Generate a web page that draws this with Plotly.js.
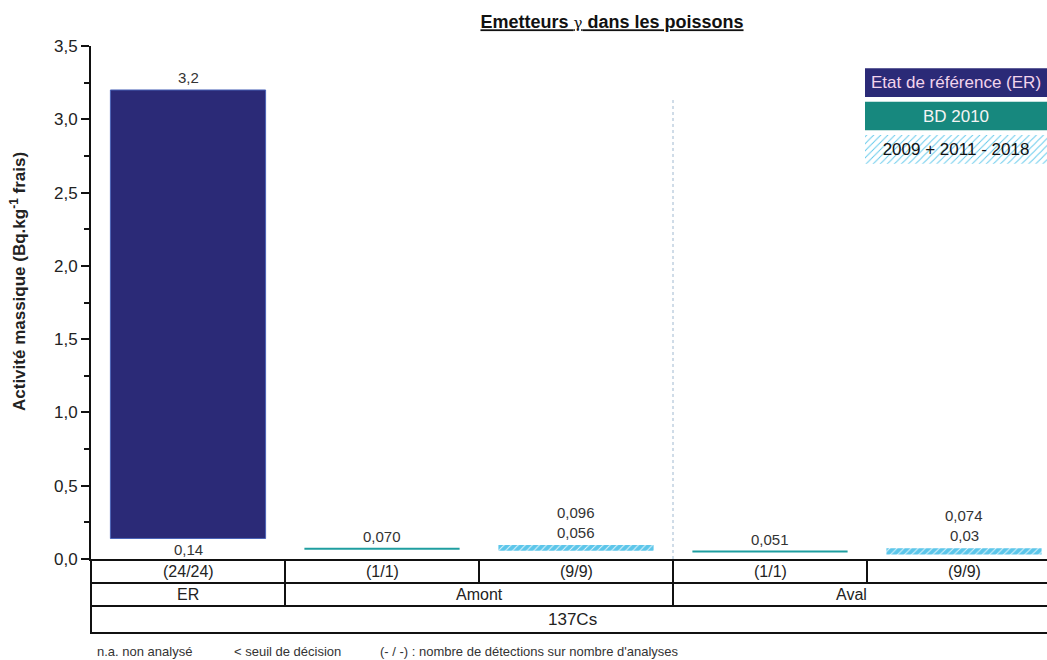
<!DOCTYPE html>
<html><head><meta charset="utf-8">
<script src="https://cdn.plot.ly/plotly-3.0.1.min.js"></script>
<style>html,body{margin:0;padding:0;background:#fff;overflow:hidden}</style>
</head><body><div id="chart" style="width:1047px;height:660px"></div>
<script>
// ---------- data ----------
const positions = [0, 1, 2, 3, 4];
const countLabels = ['(24/24)', '(1/1)', '(9/9)', '(1/1)', '(9/9)'];
const groupNames = ['ER', 'Amont', 'Aval'];
const groupCenters = [0, 1.5, 3.42];
const groupDividers = [0.5, 2.5];
const elementName = '137Cs';

const erX = [0];
const erMin = [0.14];
const erMax = [3.2];
const erMinLabel = ['0,14'];
const erMaxLabel = ['3,2'];

const bdX = [1, 3];
const bdVal = [0.070, 0.051];
const bdLabel = ['0,070', '0,051'];

const histX = [2, 4];
const histMin = [0.056, 0.03];
const histMax = [0.096, 0.074];
const histMinLabel = ['0,056', '0,03'];
const histMaxLabel = ['0,096', '0,074'];

const legendNames = ['Etat de référence (ER)', 'BD 2010', '2009 + 2011 - 2018'];
const footNotes = ['n.a. non analysé', '< seuil de décision', "(- / -) : nombre de détections sur nombre d'analyses"];
const yTicks = [0, 0.5, 1, 1.5, 2, 2.5, 3, 3.5];

// ---------- styles ----------
const FONT = 'Liberation Sans, Arial, sans-serif';
const C_ER = '#2b2a77';
const C_BD = '#1f9ea0';
const C_BD_LEG = '#17887e';
const C_HIST = '#5cc6ea';
const LINE_HALF = 0.0068;

const W = 1047, H = 660;
const mL = 91, mR = 0, mT = 46, mB = 101;
const plotW = W - mL - mR, plotH = H - mT - mB;
const pxY = py => (H - mB - py) / plotH;       // pixel y -> paper
const pxX = px => (px - mL) / plotW;           // pixel x -> paper

const hatch = {shape: '/', bgcolor: C_HIST, fgcolor: '#e8f7fd', size: 5, solidity: 0.18, fillmode: 'replace'};

const traces = [
  {type: 'bar', x: erX, base: erMin, y: erMax.map((v, i) => v - erMin[i]), width: 0.8,
   marker: {color: C_ER, line: {color: '#4a63b8', width: 1}}, hoverinfo: 'skip', showlegend: false},
  {type: 'bar', x: bdX, base: bdVal.map(v => v - LINE_HALF), y: bdVal.map(() => 2 * LINE_HALF), width: 0.8,
   marker: {color: C_BD, line: {width: 0}}, hoverinfo: 'skip', showlegend: false},
  {type: 'bar', x: histX, base: histMin, y: histMax.map((v, i) => v - histMin[i]), width: 0.8,
   marker: {color: C_HIST, line: {width: 0}, pattern: hatch},
   hoverinfo: 'skip', showlegend: false},
  // legend boxes
  {type: 'bar', orientation: 'h', xaxis: 'x2', yaxis: 'y2', y: legendNames, x: legendNames.map(() => 1), width: 0.86,
   text: legendNames, textposition: 'inside', insidetextanchor: 'middle', textangle: 0, constraintext: 'none',
   textfont: {family: FONT, size: 17, color: ['#f3d4ec', '#f4f4f4', '#111111']},
   marker: {color: [C_ER, C_BD_LEG, C_HIST], line: {width: 0},
            pattern: {shape: ['', '', '/'], bgcolor: [C_ER, C_BD_LEG, C_HIST], fgcolor: '#e8f7fd', size: 5, solidity: 0.18}},
   hoverinfo: 'skip', showlegend: false}
];

const ann = [];
const lab = (x, y, t, anchor, shift) => ann.push({x: x, y: y, xref: 'x', yref: 'y', text: t, showarrow: false,
  yanchor: anchor, yshift: shift, font: {family: FONT, size: 15, color: '#333'}});
erX.forEach((x, i) => { lab(x, erMax[i], erMaxLabel[i], 'bottom', 2); lab(x, erMin[i], erMinLabel[i], 'top', -1); });
bdX.forEach((x, i) => lab(x, bdVal[i], bdLabel[i], 'bottom', 2));
histX.forEach((x, i) => { lab(x, histMax[i], histMinLabel[i], 'bottom', 2); lab(x, histMax[i], histMaxLabel[i], 'bottom', 22); });

// table texts
positions.forEach((x, i) => ann.push({x: x, y: pxY(571), xref: 'x', yref: 'paper', text: countLabels[i], showarrow: false,
  yanchor: 'middle', font: {family: FONT, size: 16, color: '#222'}}));
groupNames.forEach((g, i) => ann.push({x: groupCenters[i], y: pxY(594), xref: 'x', yref: 'paper', text: g, showarrow: false,
  yanchor: 'middle', font: {family: FONT, size: 16, color: '#222'}}));
ann.push({x: 1.98, y: pxY(619), xref: 'x', yref: 'paper', text: elementName, showarrow: false, yanchor: 'middle',
  font: {family: FONT, size: 17, color: '#222'}});
// footnotes
[95, 232, 378].forEach((px, i) => ann.push({x: pxX(px), y: pxY(651), xref: 'paper', yref: 'paper', text: footNotes[i],
  showarrow: false, xanchor: 'left', yanchor: 'middle', font: {family: FONT, size: 13, color: '#333'}}));
// y title
ann.push({x: pxX(18), y: pxY(282), xref: 'paper', yref: 'paper', text: '<b>Activité massique (Bq.kg<sup>-1</sup> frais)</b>',
  textangle: -90, showarrow: false, xanchor: 'center', yanchor: 'middle', font: {family: FONT, size: 17, color: '#222'}});

// table lines
const shapes = [];
const hl = py => shapes.push({type: 'line', xref: 'paper', yref: 'paper', x0: 0, x1: 1.01, y0: pxY(py), y1: pxY(py),
  line: {color: '#111', width: 2}});
[583, 606, 633].forEach(hl);
positions.slice(0, -1).forEach(x => shapes.push({type: 'line', xref: 'x', yref: 'paper', x0: x + 0.5, x1: x + 0.5,
  y0: pxY(559), y1: pxY(583), line: {color: '#111', width: 2}}));
groupDividers.forEach(x => shapes.push({type: 'line', xref: 'x', yref: 'paper', x0: x, x1: x,
  y0: pxY(583), y1: pxY(606), line: {color: '#111', width: 2}}));
shapes.push({type: 'line', xref: 'paper', yref: 'paper', x0: 0, x1: 0, y0: 0, y1: pxY(634), line: {color: '#111', width: 2}});
// dotted separator between Amont and Aval
shapes.push({type: 'line', xref: 'x', yref: 'y', x0: 2.5, x1: 2.5, y0: 0, y1: 3.145,
  line: {color: '#9fb8d0', width: 1, dash: 'dot'}});

const layout = {
  width: W, height: H,
  margin: {l: mL, r: mR, t: mT, b: mB},
  paper_bgcolor: '#fff', plot_bgcolor: '#fff',
  separators: ', ',
  barmode: 'overlay',
  showlegend: false,
  title: {text: '<b><u>Emetteurs <span style="font-family:\'DejaVu Serif\';font-weight:normal;font-size:15px">γ</span> dans les poissons</u></b>',
          font: {family: FONT, size: 18, color: '#111'},
          x: pxX(612), xref: 'paper', xanchor: 'center', y: 1 - 22 / H, yref: 'container', yanchor: 'middle'},
  xaxis: {range: [-0.5, -0.5 + plotW / 194], showticklabels: false, ticks: '', showgrid: false, zeroline: false,
          showline: true, linecolor: '#111', linewidth: 2, fixedrange: true},
  yaxis: {range: [0, 3.5], tickvals: yTicks, tickformat: '.1f', ticks: 'outside', ticklen: 8, tickwidth: 2,
          tickcolor: '#111', showline: true, linecolor: '#111', linewidth: 2, showgrid: false, zeroline: false,
          tickfont: {family: FONT, size: 17, color: '#222'},
          minor: {dtick: 0.25, ticks: 'outside', ticklen: 5, tickwidth: 2, tickcolor: '#111', showgrid: false}},
  xaxis2: {domain: [pxX(865), 1], range: [0, 1], anchor: 'y2', visible: false, fixedrange: true},
  yaxis2: {domain: [pxY(166), pxY(66)], anchor: 'x2', type: 'category', autorange: 'reversed', visible: false, fixedrange: true},
  annotations: ann,
  shapes: shapes
};

Plotly.newPlot('chart', traces, layout, {displayModeBar: false, staticPlot: true});
</script>
</body></html>
